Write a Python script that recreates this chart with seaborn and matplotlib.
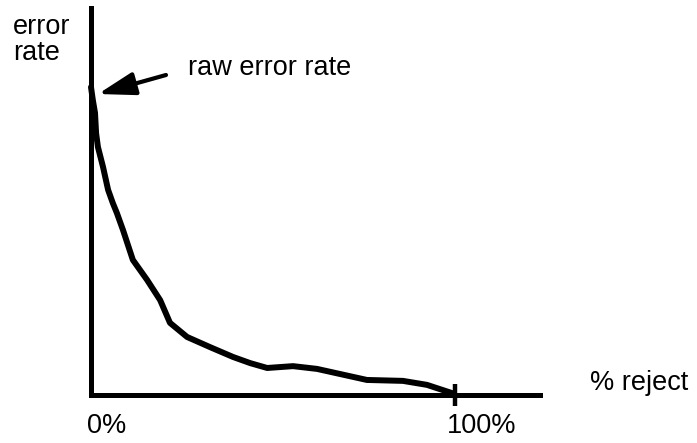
import matplotlib
matplotlib.use("Agg")
import matplotlib.pyplot as plt
import seaborn as sns

# curve: % rejected vs error rate (arbitrary units)
reject_pct = [0, 0.5, 1.1, 1.4, 1.9, 3.3, 4.7, 6.0, 7.1, 8.8, 11.5, 15.4,
              19.0, 21.7, 26.4, 32.7, 39.0, 43.7, 48.4, 55.5, 62.1, 75.8,
              85.7, 92.3, 99.5]
error_rate = [10.03, 9.61, 9.19, 8.53, 8.08, 7.43, 6.68, 6.25, 5.93, 5.37, 4.40, 3.75,
              3.09, 2.35, 1.89, 1.56, 1.24, 1.04, 0.88, 0.94, 0.85, 0.49,
              0.46, 0.33, 0.05]
tick_labels = ["0%", "100%"]

sns.set_theme(style="white")
plt.rcParams['font.family'] = ['Liberation Sans', 'DejaVu Sans']
plt.rcParams['text.color'] = 'black'

W, H = 697, 443
fig = plt.figure(figsize=(W / 100, H / 100), dpi=100)
ax = fig.add_axes([91 / W, (H - 395) / H, (540 - 91) / W, (395 - 8) / H])

sns.lineplot(x=reject_pct, y=error_rate, ax=ax, color="black", linewidth=4.3,
             estimator=None, sort=False,
             solid_capstyle="round", solid_joinstyle="round", clip_on=False)

ax.set_xlim(0, (540 - 91) / 3.64)
ax.set_ylim(0, (395 - 8) / 30.7)

sns.despine(ax=ax)
for s in ["left", "bottom"]:
    ax.spines[s].set_linewidth(3.6)
    ax.spines[s].set_color("black")

ax.set_xticks([100])
ax.set_xticklabels([])
ax.tick_params(axis="x", direction="inout", length=16, width=3.2, color="black", bottom=True)
ax.set_yticks([])

fs = 19.5
fig.text(87 / W, 1 - 426 / H, tick_labels[0], fontsize=fs, va="center", ha="left")
fig.text(447 / W, 1 - 426 / H, tick_labels[1], fontsize=fs, va="center", ha="left")
fig.text(590 / W, 1 - 383 / H, "% reject", fontsize=fs, va="center", ha="left")
fig.text(13 / W, 1 - 14 / H, "error\nrate", fontsize=fs, va="top", ha="left", linespacing=1.0)
fig.text(188 / W, 1 - 68 / H, "raw error rate", fontsize=fs, va="center", ha="left")

ax.annotate("", xy=(98, H - 94), xycoords="figure pixels",
            xytext=(166, H - 75), textcoords="figure pixels",
            arrowprops=dict(arrowstyle="-|>,head_length=0.9,head_width=0.28",
                            lw=3, color="black", mutation_scale=25,
                            shrinkA=0, shrinkB=0))

fig.savefig("out.png", dpi=100)
